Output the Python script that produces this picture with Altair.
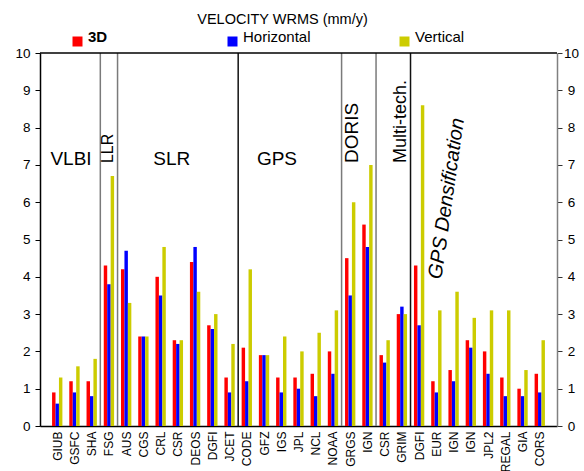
import json
import altair as alt
import pandas as pd

# Velocity WRMS per analysis centre, grouped by technique (mm/y)
stations = ["GIUB", "GSFC", "SHA", "FSG", "AUS", "CGS", "CRL", "CSR", "DEOS", "DGFI",
            "JCET", "CODE", "GFZ", "IGS", "JPL", "NCL", "NOAA", "GRGS", "IGN", "CSR",
            "GRIM", "DGFI", "EUR", "IGN", "IGN", "JPL2", "REGAL", "GIA", "CORS"]
wrms_3d = [0.9, 1.2, 1.2, 4.3, 4.2, 2.4, 4.0, 2.3, 4.4, 2.7,
           1.3, 2.1, 1.9, 1.3, 1.3, 1.4, 2.0, 4.5, 5.4, 1.9,
           3.0, 4.3, 1.2, 1.5, 2.3, 2.0, 1.3, 1.0, 1.4]
wrms_horizontal = [0.6, 0.9, 0.8, 3.8, 4.7, 2.4, 3.5, 2.2, 4.8, 2.6,
                   0.9, 1.2, 1.9, 0.9, 1.0, 0.8, 1.4, 3.5, 4.8, 1.7,
                   3.2, 2.7, 0.9, 1.2, 2.1, 1.4, 0.8, 0.8, 0.9]
wrms_vertical = [1.3, 1.6, 1.8, 6.7, 3.3, 2.4, 4.8, 2.3, 3.6, 3.0,
                 2.2, 4.2, 1.9, 2.4, 2.0, 2.5, 3.1, 6.0, 7.0, 2.3,
                 3.0, 8.6, 3.1, 3.6, 2.9, 3.1, 3.1, 1.5, 2.3]
series_names = ["3D", "Horizontal", "Vertical"]
# technique boundaries, between neighbouring station slots
boundaries_grey = [3.5, 4.5, 17.5, 19.5]
boundaries_dark = [11.5, 21.5]

FONT = "Liberation Sans"
colors = {"3D": "#FF0000", "Horizontal": "#0000FF", "Vertical": "#CCCC00"}
values = {"3D": wrms_3d, "Horizontal": wrms_horizontal, "Vertical": wrms_vertical}
legend_x = {"3D": 30, "Horizontal": 185, "Vertical": 357}

label_expr = "%s[datum.value - 1]" % json.dumps(stations)

x_scale = alt.Scale(domain=[0, 30], nice=False, zero=False)
y_scale = alt.Scale(domain=[0, 10], nice=False)

x_axis = alt.Axis(values=list(range(1, len(stations) + 1)), labelExpr=label_expr,
                  title=None, ticks=False, grid=False, domainColor="#000",
                  domainWidth=1.5, labelAngle=270, labelAlign="right",
                  labelBaseline="middle", labelFontSize=12, labelPadding=5,
                  labelOverlap=False, labelColor="#000", labelFont=FONT)
y_left = alt.Axis(values=list(range(0, 11)), title=None, grid=False,
                  domainColor="#000", domainWidth=1.5, tickColor="#000",
                  tickSize=5, labelFontSize=13.5, labelPadding=5,
                  labelColor="#000", labelFont=FONT)
y_right = alt.Axis(orient="right", values=list(range(0, 11)), title=None,
                   grid=False, domainColor="#808080", domainWidth=1.5,
                   tickColor="#333", tickSize=5, labelFontSize=13.5,
                   labelPadding=9, labelAlign="center", labelColor="#000",
                   labelFont=FONT)


def bar_layer(k, name):
    df = pd.DataFrame({
        "pos": list(range(1, len(stations) + 1)),
        "station": stations,
        "series": name,
        "value": values[name],
    })
    return alt.Chart(df).transform_calculate(
        x0=f"datum.pos - 0.3 + {0.2 * k}",
        x1=f"datum.pos - 0.1 + {0.2 * k}",
    ).mark_bar(strokeWidth=0).encode(
        x=alt.X("x0:Q", scale=x_scale, axis=x_axis),
        x2="x1:Q",
        y=alt.Y("value:Q", scale=y_scale, axis=y_left),
        y2=alt.datum(0),
        color=alt.Color("series:N",
                        scale=alt.Scale(domain=[name], range=[colors[name]]),
                        legend=alt.Legend(orient="none", legendX=legend_x[name],
                                          legendY=-19, title=None, padding=0,
                                          symbolType="square", symbolSize=100,
                                          symbolStrokeWidth=0, labelFontSize=15,
                                          labelFont=FONT, labelColor="#000",
                                          labelBaseline="alphabetic", labelOffset=3,
                                          labelFontWeight="bold" if name == "3D" else "normal")),
    )


bars = [bar_layer(k, n) for k, n in enumerate(series_names)]

bounds_df = pd.DataFrame({"b": boundaries_grey})
dark_df = pd.DataFrame({"b": boundaries_dark})
sep_grey = alt.Chart(bounds_df).mark_rule(color="#7a7a7a", strokeWidth=1.5).encode(
    x=alt.X("b:Q", scale=x_scale, axis=x_axis),
    y=alt.datum(0, scale=y_scale, axis=y_left), y2=alt.datum(10))
sep_dark = alt.Chart(dark_df).mark_rule(color="#111", strokeWidth=1.5).encode(
    x=alt.X("b:Q", scale=x_scale, axis=x_axis),
    y=alt.datum(0, scale=y_scale, axis=y_left), y2=alt.datum(10))


def note(text, x, y, size, angle=0, align="center", baseline="alphabetic", style="normal"):
    return alt.Chart(pd.DataFrame({"t": [text]})).mark_text(
        font=FONT, fontSize=size, angle=angle, align=align, baseline=baseline,
        fontStyle=style, color="#000").encode(
        x=alt.datum(x, scale=x_scale, axis=x_axis),
        y=alt.datum(y, scale=y_scale, axis=y_left),
        text="t:N")


notes = [
    note("VLBI", 1.8, 7.0, 19),
    note("SLR", 7.65, 7.0, 19),
    note("GPS", 13.75, 7.0, 19),
    note("LLR", 3.95, 7.05, 16, angle=270, align="left", baseline="middle"),
    note("DORIS", 18.13, 7.05, 19, angle=270, align="left", baseline="middle"),
    note("Multi-tech.", 20.92, 7.05, 18, angle=270, align="left", baseline="middle"),
    note("GPS Densification", 23.6, 6.1, 20, angle=278, baseline="middle", style="italic"),
]

inner = alt.layer(sep_grey, sep_dark, *bars, *notes).resolve_scale(color="independent")

# top frame line, carrying the mirrored right-hand axis
frame = alt.Chart(pd.DataFrame({"t": [0]})).mark_rule(color="#000", strokeWidth=1.5).encode(
    x=alt.datum(0, scale=x_scale, axis=x_axis),
    x2=alt.datum(30),
    y=alt.datum(10, scale=y_scale, axis=y_right),
)

chart = alt.layer(inner, frame).resolve_scale(color="independent").resolve_axis(
    y="independent").properties(
    width=517, height=373,
    padding={"left": 40, "top": 53, "right": 27, "bottom": 45},
    autosize="none",
    title=alt.TitleParams("VELOCITY WRMS (mm/y)", font=FONT, fontSize=14.5,
                          fontWeight="normal", color="#000", anchor="middle",
                          dx=-16, offset=7),
).configure_view(stroke=None)

chart.save("out.html", embed_options={"renderer": "svg", "actions": False})
